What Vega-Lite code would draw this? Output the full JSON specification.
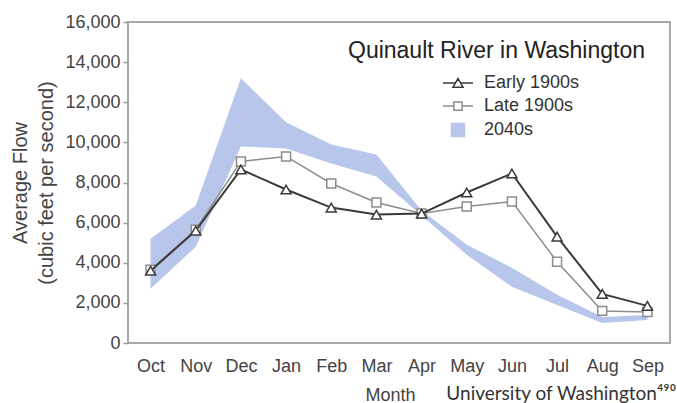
{
  "$schema": "https://vega.github.io/schema/vega-lite/v6.json",
  "width": 542,
  "height": 321,
  "autosize": {"type": "none"},
  "padding": {"left": 128, "top": 22, "right": 7, "bottom": 60},
  "background": "white",
  "config": {
    "font": "Liberation Sans",
    "view": {"stroke": "#a8a8a8", "strokeWidth": 2}
  },
  "title": {
    "text": "University of Washington⁴⁹⁰",
    "orient": "bottom",
    "anchor": "end",
    "frame": "group",
    "font": "Lato",
    "fontSize": 19,
    "fontWeight": "normal",
    "color": "#333333",
    "offset": 0,
    "dx": 6,
    "dy": -19
  },
  "datasets": {
    "lines": [
      {"month": "Oct", "series": "Late 1900s", "flow": 3650},
      {"month": "Nov", "series": "Late 1900s", "flow": 5650},
      {"month": "Dec", "series": "Late 1900s", "flow": 9050},
      {"month": "Jan", "series": "Late 1900s", "flow": 9300},
      {"month": "Feb", "series": "Late 1900s", "flow": 7950},
      {"month": "Mar", "series": "Late 1900s", "flow": 7000},
      {"month": "Apr", "series": "Late 1900s", "flow": 6450},
      {"month": "May", "series": "Late 1900s", "flow": 6800},
      {"month": "Jun", "series": "Late 1900s", "flow": 7050},
      {"month": "Jul", "series": "Late 1900s", "flow": 4050},
      {"month": "Aug", "series": "Late 1900s", "flow": 1600},
      {"month": "Sep", "series": "Late 1900s", "flow": 1550},
      {"month": "Oct", "series": "Early 1900s", "flow": 3600},
      {"month": "Nov", "series": "Early 1900s", "flow": 5600},
      {"month": "Dec", "series": "Early 1900s", "flow": 8650},
      {"month": "Jan", "series": "Early 1900s", "flow": 7650},
      {"month": "Feb", "series": "Early 1900s", "flow": 6750},
      {"month": "Mar", "series": "Early 1900s", "flow": 6400},
      {"month": "Apr", "series": "Early 1900s", "flow": 6450},
      {"month": "May", "series": "Early 1900s", "flow": 7500},
      {"month": "Jun", "series": "Early 1900s", "flow": 8450},
      {"month": "Jul", "series": "Early 1900s", "flow": 5300},
      {"month": "Aug", "series": "Early 1900s", "flow": 2450},
      {"month": "Sep", "series": "Early 1900s", "flow": 1850}
    ],
    "band": [
      {"month": "Oct", "series": "2040s", "low": 2700, "high": 5200},
      {"month": "Nov", "series": "2040s", "low": 4800, "high": 6850},
      {"month": "Dec", "series": "2040s", "low": 9800, "high": 13200},
      {"month": "Jan", "series": "2040s", "low": 9700, "high": 11000},
      {"month": "Feb", "series": "2040s", "low": 8950, "high": 9900},
      {"month": "Mar", "series": "2040s", "low": 8300, "high": 9400},
      {"month": "Apr", "series": "2040s", "low": 6350, "high": 6600},
      {"month": "May", "series": "2040s", "low": 4400, "high": 4900},
      {"month": "Jun", "series": "2040s", "low": 2800, "high": 3750},
      {"month": "Jul", "series": "2040s", "low": 1900, "high": 2400},
      {"month": "Aug", "series": "2040s", "low": 1000, "high": 1300},
      {"month": "Sep", "series": "2040s", "low": 1150, "high": 1400}
    ]
  },
  "encoding": {
    "x": {
      "field": "month",
      "type": "ordinal",
      "sort": ["Oct", "Nov", "Dec", "Jan", "Feb", "Mar", "Apr", "May", "Jun", "Jul", "Aug", "Sep"],
      "scale": {"type": "point", "padding": 0.5},
      "title": "Month",
      "axis": {
        "labelAngle": 0,
        "labelFontSize": 18,
        "labelColor": "#444444",
        "labelPadding": 14,
        "ticks": false,
        "tickSize": 0,
        "domain": false,
        "titleFontSize": 18,
        "titleFontWeight": "normal",
        "titleColor": "#444444",
        "titlePadding": 11,
        "titleX": 262
      }
    },
    "color": {
      "field": "series",
      "type": "nominal",
      "scale": {
        "domain": ["Early 1900s", "Late 1900s", "2040s"],
        "range": ["#3a3a3a", "#8c8c8c", "#b7c6ea"]
      },
      "legend": {
        "orient": "none",
        "legendX": 220,
        "legendY": 18,
        "title": "Quinault River in Washington",
        "titleFontSize": 23,
        "titleFontWeight": "normal",
        "titleColor": "#222222",
        "titlePadding": 11,
        "titleLimit": 500,
        "labelFontSize": 18,
        "labelColor": "#333333",
        "labelLimit": 300,
        "symbolSize": 225,
        "symbolOffset": 101,
        "labelOffset": 17,
        "rowPadding": 5,
        "symbolType": "M-2,0H-0.55M0.55,0H2M-0.55,-0.55H0.55V0.55H-0.55Z",
        "encode": {
          "symbols": {
            "update": {
              "shape": {"signal": "datum.value === 'Early 1900s' ? 'M-2,0H-0.36M0.36,0H2M-0.67,0.55L0,-0.6L0.67,0.55Z' : datum.value === 'Late 1900s' ? 'M-2,0H-0.55M0.55,0H2M-0.55,-0.55H0.55V0.55H-0.55Z' : 'M-0.87,-0.87H0.87V0.87H-0.87Z'"},
              "fillOpacity": {"signal": "datum.value === '2040s' ? 1 : 0"},
              "strokeWidth": {"value": 1.5}
            }
          }
        }
      }
    }
  },
  "layer": [
    {
      "data": {"name": "band"},
      "mark": {"type": "area", "opacity": 1},
      "encoding": {
        "y": {
          "field": "low",
          "type": "quantitative",
          "scale": {"domain": [0, 16000], "nice": false},
          "axis": {
            "values": [0, 2000, 4000, 6000, 8000, 10000, 12000, 14000, 16000],
            "format": ",d",
            "grid": false,
            "domain": false,
            "tickColor": "#999999",
            "tickSize": 5,
            "tickWidth": 1.5,
            "labelFontSize": 18,
            "labelColor": "#444444",
            "labelPadding": 3,
            "title": ["Average Flow", "(cubic feet per second)"],
            "titleFontSize": 20,
            "titleFontWeight": "normal",
            "titleColor": "#444444",
            "titleLineHeight": 26,
            "titlePadding": 8
          }
        },
        "y2": {"field": "high"}
      }
    },
    {
      "data": {"name": "lines"},
      "transform": [{"filter": "datum.series === 'Late 1900s'"}],
      "mark": {"type": "line", "strokeWidth": 1.5},
      "encoding": {
        "y": {"field": "flow", "type": "quantitative"}
      }
    },
    {
      "data": {"name": "lines"},
      "transform": [{"filter": "datum.series === 'Late 1900s'"}],
      "mark": {"type": "point", "shape": "square", "size": 80, "filled": false, "fill": "white", "stroke": "#8c8c8c", "strokeWidth": 1.5, "opacity": 1},
      "encoding": {
        "y": {"field": "flow", "type": "quantitative"},
        "color": {"value": "#8c8c8c"}
      }
    },
    {
      "data": {"name": "lines"},
      "transform": [{"filter": "datum.series === 'Early 1900s'"}],
      "mark": {"type": "line", "strokeWidth": 2},
      "encoding": {
        "y": {"field": "flow", "type": "quantitative"}
      }
    },
    {
      "data": {"name": "lines"},
      "transform": [{"filter": "datum.series === 'Early 1900s'"}],
      "mark": {"type": "point", "shape": "triangle-up", "size": 100, "filled": false, "fill": "white", "stroke": "#3a3a3a", "strokeWidth": 1.5, "opacity": 1},
      "encoding": {
        "y": {"field": "flow", "type": "quantitative"},
        "color": {"value": "#3a3a3a"}
      }
    }
  ]
}
